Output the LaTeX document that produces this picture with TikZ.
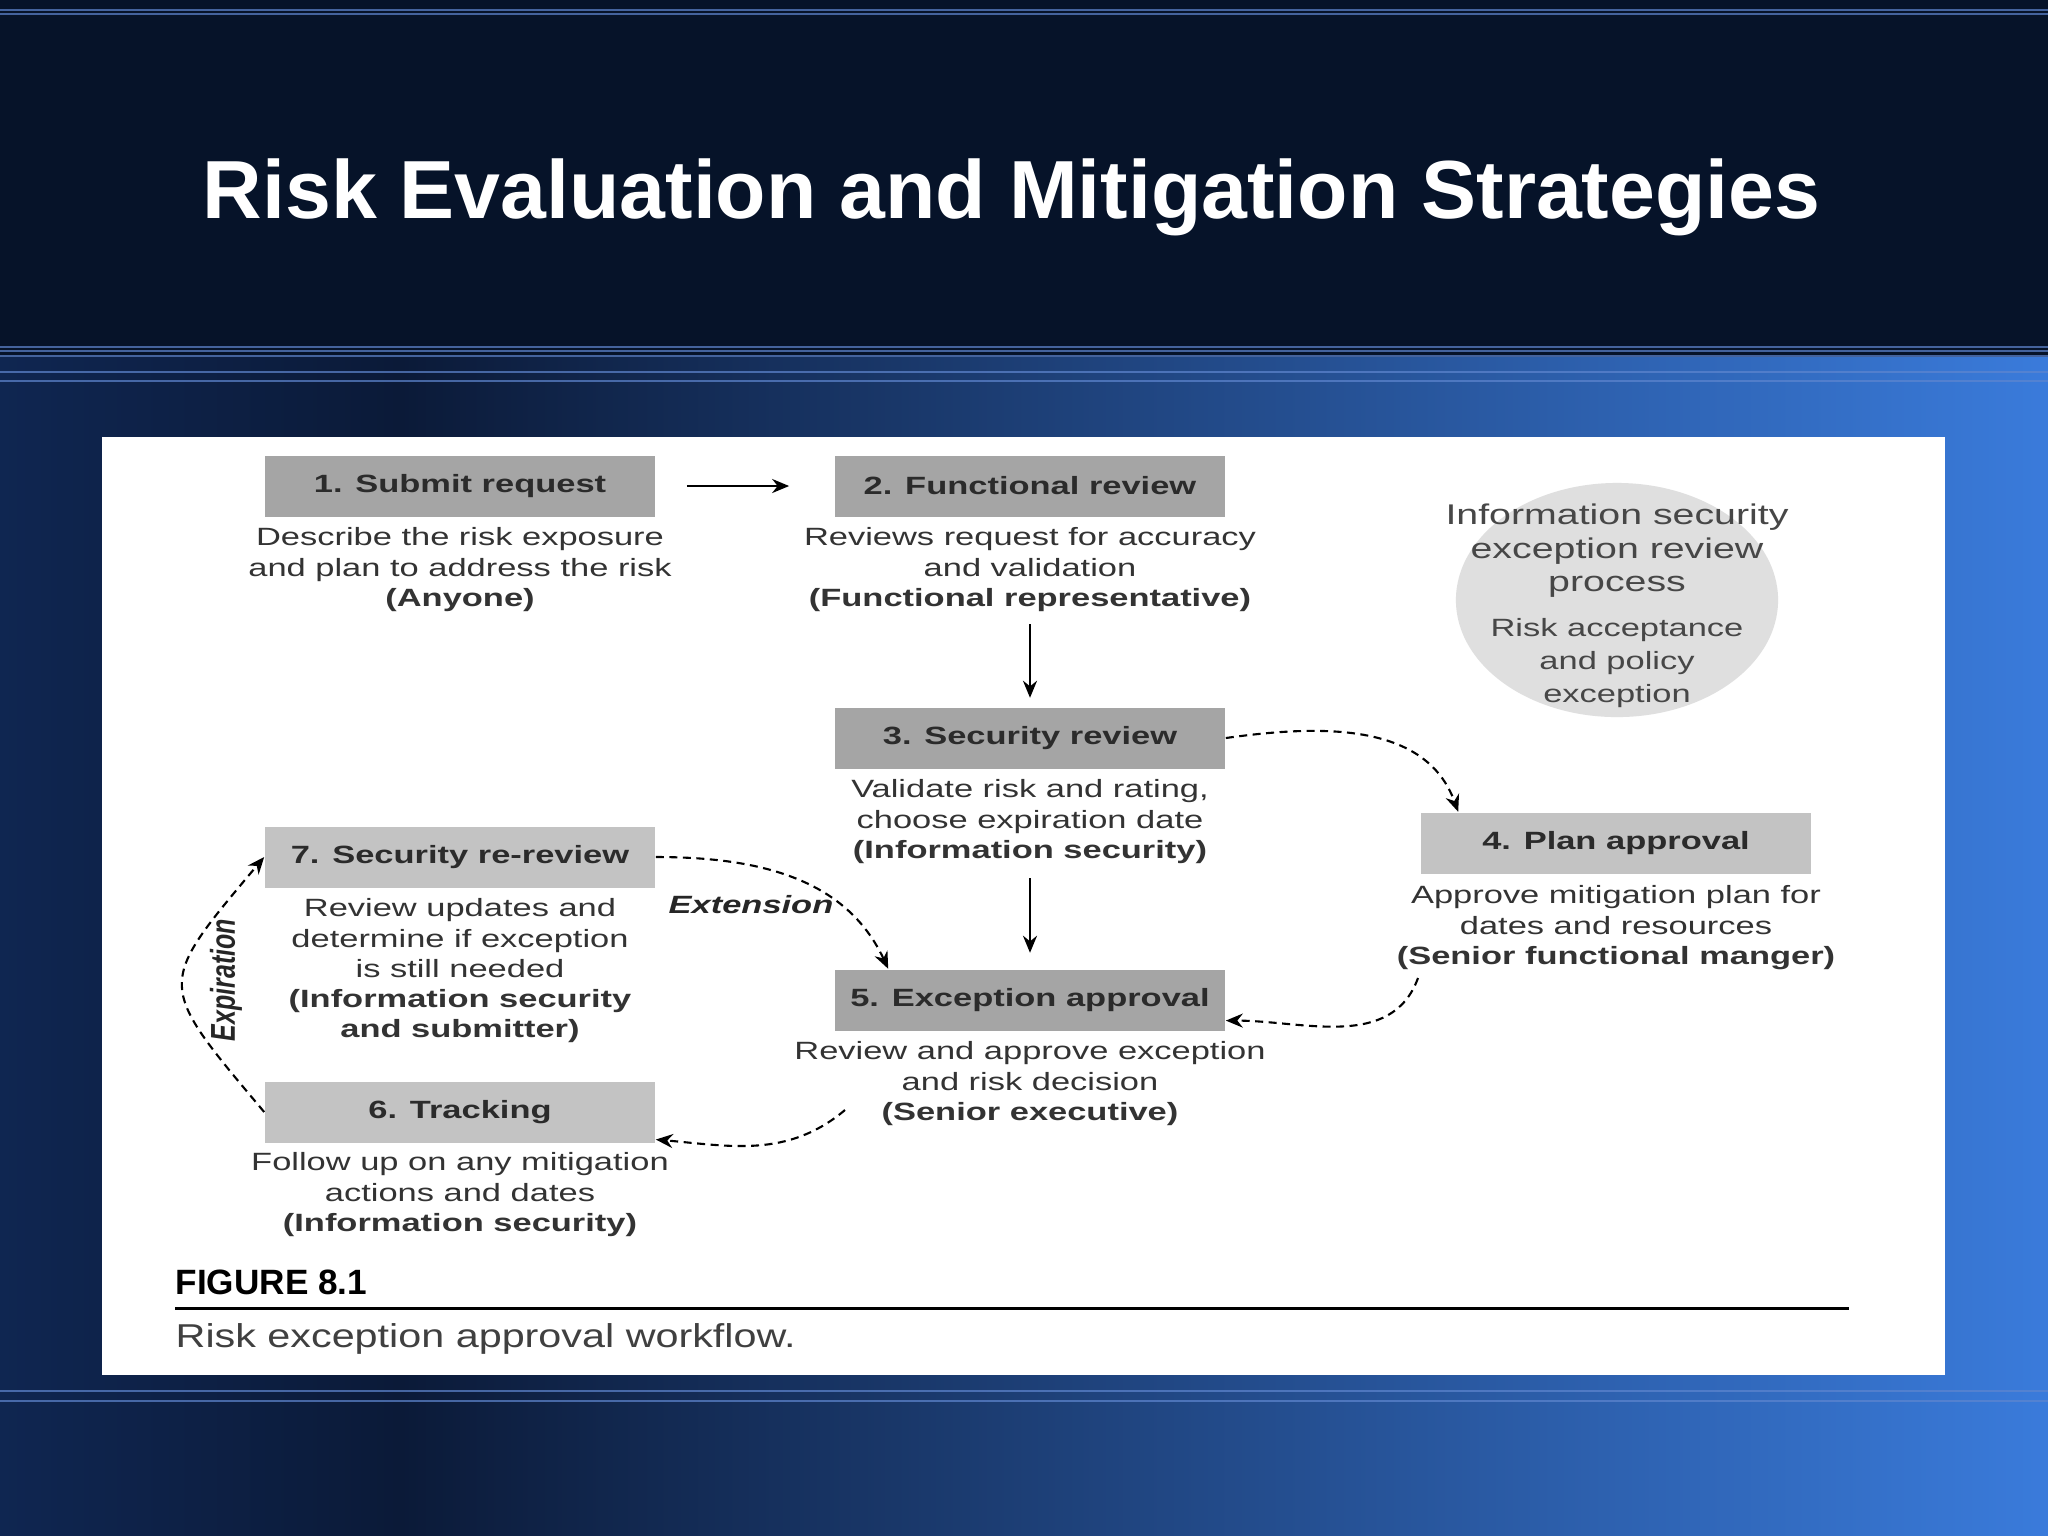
\documentclass[tikz,border=0pt]{standalone}
\usepackage{fontspec}
\setmainfont{Liberation Sans}
\newfontfamily\figfont[FakeStretch=1.38]{Liberation Sans}
\newfontfamily\capfont[FakeStretch=1.25]{Liberation Sans}
\usetikzlibrary{arrows.meta,shapes.geometric}

\definecolor{banner}{HTML}{061329}
\definecolor{bgdark}{HTML}{0B1A38}
\definecolor{bgleft}{HTML}{0F2651}
\definecolor{bgright}{HTML}{3A7BDB}
\definecolor{rulecol}{HTML}{5F86CF}
\definecolor{boxdark}{HTML}{A5A5A5}
\definecolor{boxlight}{HTML}{C3C3C3}
\definecolor{boxtext}{HTML}{2B2B2B}
\definecolor{bodytext}{HTML}{333333}
\definecolor{ovalfill}{HTML}{DFDFDF}
\definecolor{ovaltext}{HTML}{474747}
\newcommand\ovsmall{\fontsize{7.1}{8.8}\selectfont}

\begin{document}
\begin{tikzpicture}[x=0.01cm,y=-0.01cm,
  stepbox/.style={fill=boxdark,minimum width=3.9cm,minimum height=0.61cm,inner sep=0pt,
    text=boxtext,font=\figfont\fontsize{7.1}{8.5}\selectfont\bfseries},
  stepnote/.style={anchor=north,align=center,inner sep=0pt,text=bodytext,
    font=\figfont\fontsize{7.1}{8.6}\selectfont},
  looptag/.style={inner sep=0pt,text=black!85,font=\figfont\fontsize{7.1}{8.5}\selectfont\bfseries\itshape},
  procoval/.style={ellipse,fill=ovalfill,minimum width=3.22cm,minimum height=2.34cm,inner sep=0pt},
  proctext/.style={align=center,inner sep=0pt,text=ovaltext,font=\figfont\fontsize{8.1}{9.4}\selectfont},
  mainflow/.style={line width=0.7pt,-{Stealth[length=1.7mm,width=1.4mm]}},
  backflow/.style={mainflow,line width=0.6pt,dash pattern=on 0.8mm off 0.55mm}]

\useasboundingbox (0,0) rectangle (2048,1535);
\fill[banner] (0,0) rectangle (2048,357);
\shade[left color=bgleft,right color=bgdark] (0,357) rectangle (400,1535);
\shade[left color=bgdark,right color=bgright] (400,357) rectangle (2048,1535);
\foreach \ly in {10,14,347,351,356,372,381,1391,1401}
  \draw[rulecol,line width=0.55pt,opacity=0.7] (0,\ly) -- (2048,\ly);
\fill[white] (102,437) rectangle (1945,1375);

\node[anchor=base west,inner sep=0pt,text=white,font=\fontsize{23.45}{28}\selectfont\bfseries]
  (title) at (202,218) {Risk Evaluation and Mitigation Strategies};

\node[stepbox] (b1) at (460,486) {1. Submit request};
\node[stepbox] (b2) at (1030,486) {2. Functional review};
\node[stepbox] (b3) at (1030,738) {3. Security review};
\node[stepbox,fill=boxlight] (b4) at (1616,843) {4. Plan approval};
\node[stepbox] (b5) at (1030,1000) {5. Exception approval};
\node[stepbox,fill=boxlight] (b6) at (460,1112) {6. Tracking};
\node[stepbox,fill=boxlight] (b7) at (460,857) {7. Security re-review};

\node[stepnote] (t1) at (460,527) {Describe the risk exposure\\and plan to address the risk\\\textbf{(Anyone)}};
\node[stepnote] (t2) at (1030,527) {Reviews request for accuracy\\and validation\\\textbf{(Functional representative)}};
\node[stepnote] (t3) at (1030,779) {Validate risk and rating,\\choose expiration date\\\textbf{(Information security)}};
\node[stepnote] (t4) at (1616,885) {Approve mitigation plan for\\dates and resources\\\textbf{(Senior functional manger)}};
\node[stepnote] (t5) at (1030,1041) {Review and approve exception\\and risk decision\\\textbf{(Senior executive)}};
\node[stepnote] (t6) at (460,1152) {Follow up on any mitigation\\actions and dates\\\textbf{(Information security)}};
\node[stepnote] (t7) at (460,898) {Review updates and\\determine if exception\\is still needed\\\textbf{(Information security}\\\textbf{and submitter)}};

\node[procoval] (proc) at (1617,600) {};
\node[proctext] (proctxt) at (1617,606) {Information security\\exception review\\process\\[3.5pt]\ovsmall Risk acceptance\\\ovsmall and policy\\\ovsmall exception};

\node[inner sep=0pt,text=black!85,font=\fontsize{7.1}{8.5}\selectfont\bfseries\itshape,rotate=90,yscale=1.38]
  (lexp) at (226,980) {Expiration};
\node[looptag] (lext) at (751,905) {Extension};

\coordinate (x4) at (1418,978);
\coordinate (x5) at (845,1110);

\draw[mainflow,shorten <=3.1mm,shorten >=4.5mm] (b1) -- (b2);
\draw[mainflow,shorten <=1.2mm,shorten >=0.9mm] (t2) -- (b3);
\draw[mainflow,shorten <=1.4mm,shorten >=1.6mm] (t3) -- (b5);

\draw[backflow] (b3.east) to[out=8,in=110] ([xshift=0.38cm]b4.north west);
\draw[backflow] (x4) to[out=-110,in=0] (b5.-6);
\draw[backflow] (x5) to[out=-140,in=-5] (b6.-8);
\draw[backflow,looseness=1.7] (b6.west) to[out=130,in=-130] (b7.west);
\draw[backflow] (b7.east) to[out=0,in=115] ([xshift=0.54cm]b5.north west);

\node[anchor=base west,inner sep=0pt,font=\fontsize{10}{12}\selectfont\bfseries] (fig) at (175,1294) {FIGURE 8.1};
\draw[line width=0.85pt] (175,1308) -- (1849,1308);
\node[anchor=base west,inner sep=0pt,text=black!75,font=\capfont\fontsize{9.4}{11}\selectfont] (cap) at (175,1347) {Risk exception approval workflow.};
\end{tikzpicture}
\end{document}
